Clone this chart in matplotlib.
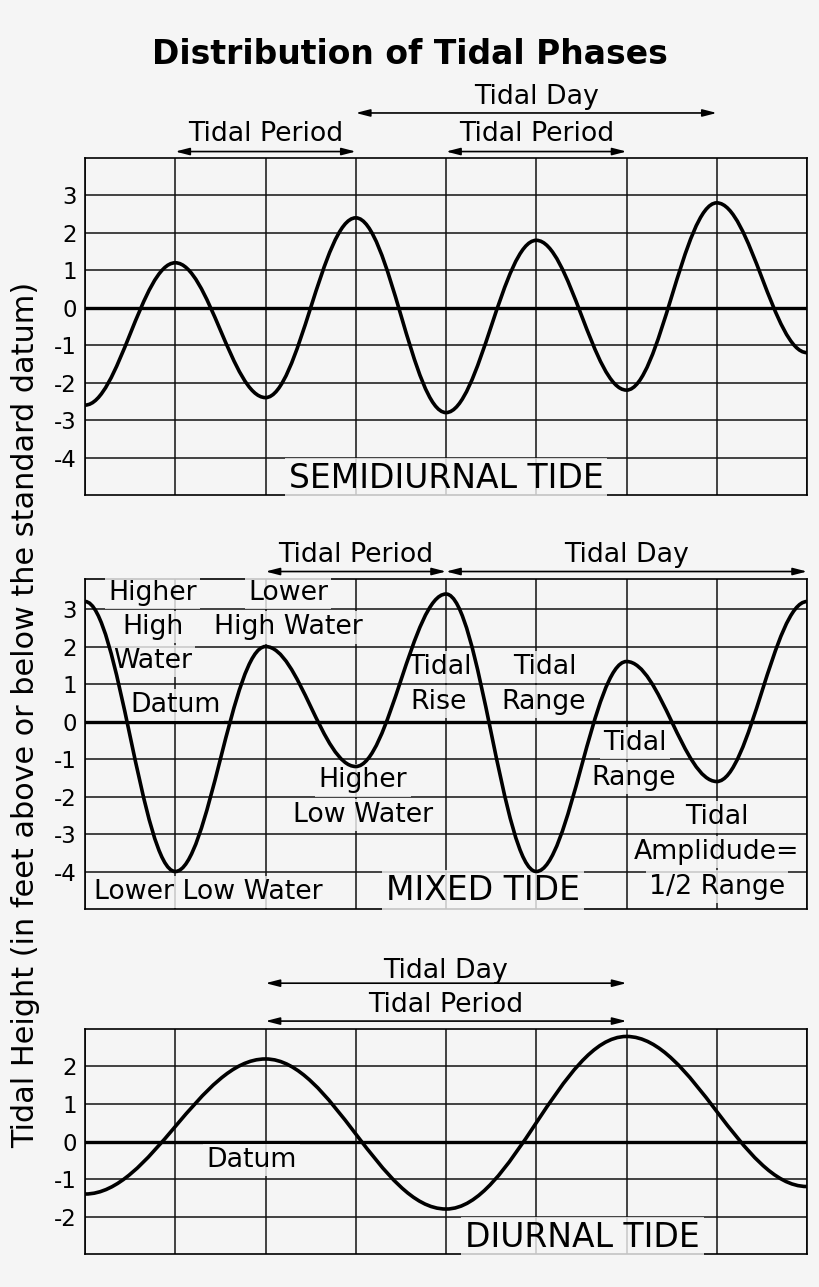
import matplotlib
matplotlib.use("Agg")
import matplotlib.pyplot as plt
from matplotlib.path import Path
from matplotlib.patches import PathPatch

# data: tide highs/lows (time in grid columns, height in feet)
semi_t = [0, 1, 2, 3, 4, 5, 6, 7, 8]
semi_h = [-2.6, 1.2, -2.4, 2.4, -2.8, 1.8, -2.2, 2.8, -1.2]
mixed_t = [0, 1, 2, 3, 4, 5, 6, 7, 8]
mixed_h = [3.2, -4.0, 2.0, -1.2, 3.4, -4.0, 1.6, -1.6, 3.2]
diurnal_t = [0, 2, 4, 6, 8]
diurnal_h = [-1.4, 2.2, -1.8, 2.8, -1.2]

semi_ticks = [-4, -3, -2, -1, 0, 1, 2, 3]
mixed_ticks = [-4, -3, -2, -1, 0, 1, 2, 3]
diurnal_ticks = [-2, -1, 0, 1, 2]

BG = "#f5f5f5"
FS = 19.3
BIG = 23.8


def tide_curve(ax, t, h):
    # smooth swing between successive extremes, flat at each high / low
    k = 0.3642
    verts = [(t[0], h[0])]
    codes = [Path.MOVETO]
    for i in range(len(t) - 1):
        d = t[i + 1] - t[i]
        verts += [(t[i] + k * d, h[i]), (t[i + 1] - k * d, h[i + 1]), (t[i + 1], h[i + 1])]
        codes += [Path.CURVE4] * 3
    ax.add_patch(PathPatch(Path(verts, codes), fill=False, lw=2.6, ec="black", zorder=4))


def setup(ax, ylim, ticks):
    ax.set_xlim(0, 8)
    ax.set_ylim(*ylim)
    ax.set_facecolor(BG)
    ax.set_xticks(range(9))
    ax.set_xticklabels([])
    ax.set_yticks(ticks)
    ax.set_yticklabels([str(v) for v in ticks])
    ax.tick_params(length=0, labelsize=16.5, pad=6)
    ax.grid(True, color="#111111", lw=1.1, zorder=0.5)
    ax.set_axisbelow(True)
    ax.axhline(0, color="black", lw=2.4, zorder=1)
    for s in ax.spines.values():
        s.set_linewidth(1.2)


def label(ax, x, y, s, fs=FS):
    ax.text(x, y, s, ha="center", va="center", fontsize=fs, zorder=3,
            bbox=dict(boxstyle="square,pad=0.12", fc=BG, ec="none", alpha=0.8))


def span(ax, x0, x1, y, s=None, ty=None):
    ax.annotate("", xy=(x1, y), xytext=(x0, y), annotation_clip=False,
                arrowprops=dict(arrowstyle="<|-|>,head_length=0.7,head_width=0.18",
                                mutation_scale=12, lw=1.2, color="black",
                                shrinkA=0, shrinkB=0))
    if s:
        ax.text((x0 + x1) / 2, ty, s, ha="center", va="center", fontsize=FS, clip_on=False)


fig = plt.figure(figsize=(8.2, 12.87), dpi=100)
fig.set_facecolor(BG)

ax1 = fig.add_axes([0.1037, 0.6154, 0.8805, 0.2619])
ax2 = fig.add_axes([0.1037, 0.2937, 0.8805, 0.2564])
ax3 = fig.add_axes([0.1037, 0.0256, 0.8805, 0.1749])

# semidiurnal
setup(ax1, (-5, 4), semi_ticks)
tide_curve(ax1, semi_t, semi_h)
label(ax1, 4.0, -4.55, "SEMIDIURNAL TIDE", fs=BIG)
span(ax1, 1, 3, 4.17, "Tidal Period", 4.63)
span(ax1, 4, 6, 4.17, "Tidal Period", 4.63)
span(ax1, 3, 7, 5.2, "Tidal Day", 5.62)

# mixed
setup(ax2, (-5, 3.8), mixed_ticks)
tide_curve(ax2, mixed_t, mixed_h)
span(ax2, 2, 4, 4.0, "Tidal Period", 4.44)
span(ax2, 4, 8, 4.0, "Tidal Day", 4.44)
label(ax2, 0.75, 3.42, "Higher")
label(ax2, 0.75, 2.52, "High")
label(ax2, 0.75, 1.62, "Water")
label(ax2, 2.25, 3.42, "Lower")
label(ax2, 2.25, 2.51, "High Water")
label(ax2, 1.0, 0.44, "Datum")
label(ax2, 3.08, -1.57, "Higher")
label(ax2, 3.08, -2.49, "Low Water")
label(ax2, 1.37, -4.54, "Lower Low Water")
label(ax2, 4.41, -4.5, "MIXED TIDE", fs=BIG)
label(ax2, 3.93, 1.46, "Tidal")
label(ax2, 3.92, 0.53, "Rise")
label(ax2, 5.1, 1.46, "Tidal")
label(ax2, 5.08, 0.53, "Range")
label(ax2, 6.09, -0.58, "Tidal")
label(ax2, 6.08, -1.5, "Range")
label(ax2, 7.0, -2.55, "Tidal")
label(ax2, 7.0, -3.48, "Amplidude=")
label(ax2, 7.0, -4.4, "1/2 Range")

# diurnal
setup(ax3, (-3, 3), diurnal_ticks)
tide_curve(ax3, diurnal_t, diurnal_h)
span(ax3, 2, 6, 4.22, "Tidal Day", 4.55)
span(ax3, 2, 6, 3.21, "Tidal Period", 3.65)
label(ax3, 1.84, -0.49, "Datum")
label(ax3, 5.51, -2.55, "DIURNAL TIDE", fs=BIG)

fig.text(0.5, 0.958, "Distribution of Tidal Phases", ha="center", va="center",
         fontsize=23.8, fontweight="bold")
fig.text(0.031, 0.4444, "Tidal Height (in feet above or below the standard datum)",
         rotation=90, ha="center", va="center", fontsize=21.8)

fig.savefig("out.png", dpi=100, facecolor=BG)
plt.close(fig)
